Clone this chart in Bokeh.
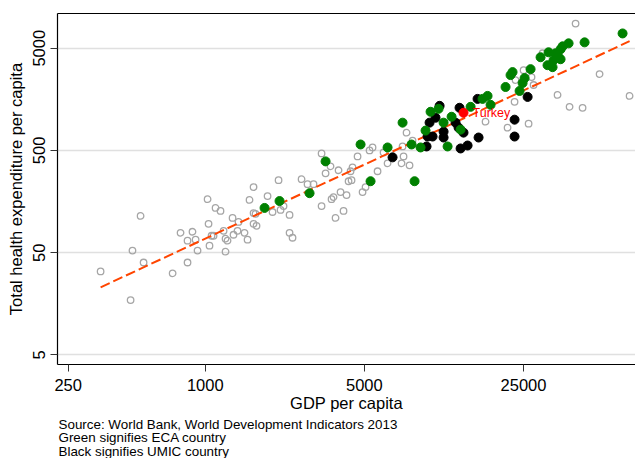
import numpy as np
from bokeh.plotting import figure
from bokeh.models import FixedTicker, NumeralTickFormatter, Title, LogAxis, Range1d
from bokeh.embed import file_html
from bokeh.resources import INLINE
from bokeh.core.properties import value

# ---- data (GDP per capita, total health expenditure per capita) ----
other_gdp = [347, 470, 520, 479, 536, 719, 779, 879, 836, 907, 836, 925, 1024, 1034, 1044,
             1066, 1088, 1110, 1167, 1204, 1228, 1253, 1228, 1318, 1331, 1386, 1400, 1488,
             1534, 1565, 1630, 1630, 1663, 1630, 1680, 1878, 1975, 2142, 2208, 2346, 2346,
             2418, 2099, 2649, 2814, 2990, 3243, 3377, 3243, 3551, 3851, 3587, 3661, 3736,
             3929, 4050, 4175, 4261, 4392, 4348, 4436, 4667, 4909, 5060, 5269, 5431, 5713,
             6071, 6322, 7357, 7431, 7283, 7896, 7660, 8140, 17030, 21280, 26320, 22840,
             25020, 27120, 27680, 23070, 35280, 39840, 45440, 53970, 73100, 42330, 30310]
other_he = [32.8, 17.2, 114.5, 52.4, 40.1, 31.4, 78.3, 80.1, 65.5, 67.0, 40.1, 52.4, 167,
            95.7, 58.6, 73.2, 73.2, 137, 128, 81.9, 68.5, 65.5, 51.2, 109.5, 74.9, 81.9, 100,
            78.3, 67.0, 164, 219, 122, 120, 95.7, 91.6, 179, 125, 131, 143, 117, 78.3, 70.0,
            256, 262, 234, 234, 468, 299, 143, 350, 320, 167, 175, 109.5, 196, 128, 183, 250,
            256, 313, 342, 437, 196, 219, 500, 535, 313, 478, 374, 547, 437, 374, 358, 747,
            625, 956, 836, 914, 1494, 3053, 2611, 2183, 2442, 1746, 1336, 1307, 2792, 1708,
            8720, 4463]

eca_gdp = [1822, 2120, 2872, 3377, 4811, 5322, 6322, 7357, 8058, 8307, 8826, 9283, 9766,
           10590, 11140, 12080, 13230, 11600, 14640, 16520, 17380, 17920, 20850, 21930,
           22380, 24030, 24770, 25280, 26850, 29710, 31880, 33540, 32210, 34570, 35640,
           33880, 36370, 37120, 39440, 46370, 68090, 36370]
eca_he = [137, 160, 191, 391, 572, 250, 535, 935, 572, 250, 535, 782, 1195, 1278, 935, 1068,
          799, 547, 1336, 1597, 1708, 1397, 2088, 2730, 2919, 1910, 2283, 2553, 3121, 4081,
          3413, 3264, 4563, 4463, 4081, 3816, 4880, 5215, 5580, 5705, 6975, 3902]

umic_gdp = [6649, 9378, 9474, 9965, 10270, 9667, 10700, 11140, 11140, 12580, 13090, 13630,
            13230, 14200, 15710, 15870, 22840, 22840, 26060, 12960]
umic_he = [428, 547, 684, 684, 1045, 935, 1366, 764, 669, 935, 1307, 747, 523, 559, 1597,
           669, 1000, 684, 1670, 836]

turkey_gdp = [13630]
turkey_he = [1168]
turkey_name = ["Turkey"]

x_ticks = [250, 1000, 5000, 25000]
y_ticks = [5, 50, 500, 5000]

notes = ["Source: World Bank, World Development Indicators 2013",
         "Green signifies ECA country",
         "Black signifies UMIC country"]

FONT = "Liberation Sans"

p = figure(width=635, height=458, x_axis_type="log", y_axis_type="log",
           x_range=Range1d(224.4, 77600), y_range=Range1d(4.03, 10930),
           output_backend="svg", toolbar_location=None,
           min_border_left=57, min_border_right=0, min_border_top=13, min_border_bottom=91,
           background_fill_color="white", border_fill_color="white")
p.outline_line_color = None

# axes
for ax, ticks in ((p.xaxis[0], x_ticks), (p.yaxis[0], y_ticks)):
    ax.ticker = FixedTicker(ticks=ticks)
    ax.formatter = NumeralTickFormatter(format="0")
    ax.major_label_text_font = FONT
    ax.major_label_text_font_size = "16.5px"
    ax.major_label_text_color = "black"
    ax.axis_label_text_font = FONT
    ax.axis_label_text_font_size = "16.5px"
    ax.axis_label_text_font_style = "normal"
    ax.axis_label_text_color = "black"
    ax.axis_line_color = "black"
    ax.axis_line_width = 1.2
    ax.major_tick_line_color = "#333333"
    ax.major_tick_out = 7
    ax.major_tick_in = 0
    ax.minor_tick_line_color = None

p.xaxis.axis_label = "GDP per capita"
p.yaxis.axis_label = "Total health expenditure per capita"
p.yaxis.major_label_orientation = "vertical"
p.xaxis.major_label_standoff = 7
p.xaxis.axis_label_standoff = 0
p.yaxis.major_label_standoff = 5
p.yaxis.axis_label_standoff = 6

top = LogAxis(ticker=FixedTicker(ticks=[]), major_tick_out=0, major_tick_in=0,
              major_tick_line_color=None, minor_tick_line_color=None,
              major_label_text_font_size="0px", major_label_standoff=0,
              axis_line_color="black", axis_line_width=1.2)
p.add_layout(top, "above")

p.xgrid.visible = False
p.ygrid.ticker = FixedTicker(ticks=y_ticks)
p.ygrid.grid_line_color = "#e0e0e0"
p.ygrid.grid_line_width = 1.5

# fitted line (log-log OLS over all countries)
all_gdp = np.array(other_gdp + eca_gdp + umic_gdp + turkey_gdp, dtype=float)
all_he = np.array(other_he + eca_he + umic_he + turkey_he, dtype=float)
slope, icpt = np.polyfit(np.log10(all_gdp), np.log10(all_he), 1)
fx = np.array([all_gdp.min(), all_gdp.max()])
fy = 10 ** (icpt + slope * np.log10(fx))

# points
p.scatter(other_gdp, other_he, marker="circle", size=6.5, fill_color=None,
          line_color="#a6a6a6", line_width=1.3)
p.line(fx, fy, line_color="#ff4500", line_width=2, line_dash="10 4")
p.scatter(umic_gdp, umic_he, marker="circle", size=9, fill_color="black", line_color="black")
p.scatter(eca_gdp, eca_he, marker="circle", size=9, fill_color="#008000", line_color="#008000")
p.scatter(turkey_gdp, turkey_he, marker="circle", size=9, fill_color="#ff0000", line_color="#ff0000")
p.text(turkey_gdp, turkey_he, text=turkey_name, x_offset=9, text_baseline="middle",
       text_font=value(FONT), text_font_size="12.5px", text_color="#ff0000")

# notes under the chart
p.add_layout(Title(text="\n".join(notes), align="left", offset=1, standoff=0,
                   text_font=FONT, text_font_size="13.4px", text_font_style="normal",
                   text_color="black", text_line_height=0.9), "below")

open("out.html", "w").write(file_html(p, INLINE))
